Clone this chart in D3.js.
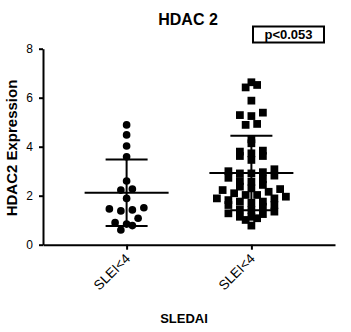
<!DOCTYPE html>
<html><head><meta charset="utf-8">
<script src="https://cdn.jsdelivr.net/npm/d3@7"></script>
<style>
html,body{margin:0;padding:0;background:#fff;}
svg{display:block;font-family:"Liberation Sans",Arial,sans-serif;}
</style></head>
<body>
<script>
const categories = ["SLEI<4", "SLEI<4"];
const groupLow = [4.89,4.48,4.03,3.59,2.60,2.27,2.23,1.89,1.51,1.46,1.42,1.38,1.08,0.90,0.84,0.78,0.60];
const groupHigh = [6.63,6.52,6.42,5.88,5.39,5.29,5.25,4.93,4.89,4.30,4.14,3.84,3.80,3.73,3.62,3.62,3.46,
  3.08,3.00,2.96,2.91,2.91,2.82,2.73,2.67,2.60,2.57,2.44,2.37,2.30,2.27,2.23,2.16,2.10,2.03,2.03,1.96,
  1.89,1.89,1.82,1.76,1.76,1.71,1.62,1.62,1.55,1.44,1.42,1.35,1.28,1.25,1.14,1.14,1.08,1.01,0.78];
const means = [2.12, 2.93];
const sds = [1.36, 1.52];
const yTicks = [0, 2, 4, 6, 8];
const title = "HDAC 2";
const pLabel = "p<0.053";
const yTitle = "HDAC2 Expression";
const xTitle = "SLEDAI";

const W = 351, H = 332;
const svg = d3.select("body").append("svg").attr("width", W).attr("height", H);

const x = d3.scalePoint().domain([0, 1]).range([43, 335]).padding(0.67);
const y = d3.scaleLinear().domain([0, 8]).range([244.7, 48.7]);

// axes
const yAx = svg.append("g").attr("transform", "translate(43,0)")
  .call(d3.axisLeft(y).tickValues(yTicks).tickSize(4).tickSizeOuter(0).tickPadding(6));
const xAx = svg.append("g").attr("transform", "translate(0,244.7)")
  .call(d3.axisBottom(x).tickSize(5).tickSizeOuter(0).tickFormat(() => ""));
[yAx, xAx].forEach(g => {
  g.select(".domain").attr("stroke", "#000").attr("stroke-width", 2);
  g.selectAll(".tick line").attr("stroke", "#000").attr("stroke-width", 2);
});
yAx.selectAll(".tick text").attr("font-size", 12).attr("fill", "#000")
  .attr("font-family", "Liberation Sans, Arial, sans-serif");

// rotated category labels
categories.forEach((c, i) => {
  svg.append("text")
    .attr("transform", `translate(${x(i) + 1},${256}) rotate(-45)`)
    .attr("text-anchor", "end").attr("dy", "0.35em")
    .attr("font-size", 13.5).attr("fill", "#000").text(c);
});

// row-binned scatter layout (lowest values of a row nearest the centre)
function swarm(vals, rowH, step) {
  const rows = d3.group(vals, v => Math.floor(y(v) / rowH));
  const out = [];
  rows.forEach(rv => {
    const s = rv.slice().sort((a, b) => a - b);
    const n = s.length;
    const slots = d3.range(n).map(j => (j - (n - 1) / 2) * step)
      .sort((a, b) => Math.abs(a) - Math.abs(b) || a - b);
    s.forEach((v, j) => out.push({ v, py: y(v), dx: slots[j] }));
  });
  return out;
}

const groups = [groupLow, groupHigh];
groups.forEach((vals, i) => {
  const cx = x(i);
  const isSq = i === 1;
  const pts = swarm(vals, isSq ? 7 : 9, 11.5);
  const sym = d3.symbol().type(isSq ? d3.symbolSquare : d3.symbolCircle).size(isSq ? 60 : 46);
  svg.append("g").selectAll("path").data(pts).join("path")
    .attr("d", sym)
    .attr("transform", p => `translate(${cx + p.dx},${p.py})`)
    .attr("fill", "#000");
  // error bars
  const g = svg.append("g").attr("stroke", "#000").attr("stroke-width", 2);
  g.append("line").attr("x1", cx).attr("x2", cx).attr("y1", y(means[i] - sds[i])).attr("y2", y(means[i] + sds[i]));
  g.append("line").attr("x1", cx - 42).attr("x2", cx + 42).attr("y1", y(means[i])).attr("y2", y(means[i]));
  [means[i] - sds[i], means[i] + sds[i]].forEach(v => {
    g.append("line").attr("x1", cx - 21).attr("x2", cx + 21).attr("y1", y(v)).attr("y2", y(v));
  });
});

// titles
svg.append("text").attr("x", 188).attr("y", 24.5).attr("text-anchor", "middle")
  .attr("font-size", 16).attr("font-weight", "bold").text(title);
svg.append("rect").attr("x", 253).attr("y", 26.5).attr("width", 71).attr("height", 16)
  .attr("fill", "none").attr("stroke", "#000").attr("stroke-width", 2);
svg.append("text").attr("x", 288.5).attr("y", 39).attr("text-anchor", "middle")
  .attr("font-size", 13).attr("font-weight", "bold").text(pLabel);
svg.append("text").attr("transform", "translate(17,148) rotate(-90)").attr("text-anchor", "middle")
  .attr("font-size", 15).attr("font-weight", "bold").text(yTitle);
svg.append("text").attr("x", 184).attr("y", 323).attr("text-anchor", "middle")
  .attr("font-size", 13).attr("font-weight", "bold").text(xTitle);
</script>
</body></html>
